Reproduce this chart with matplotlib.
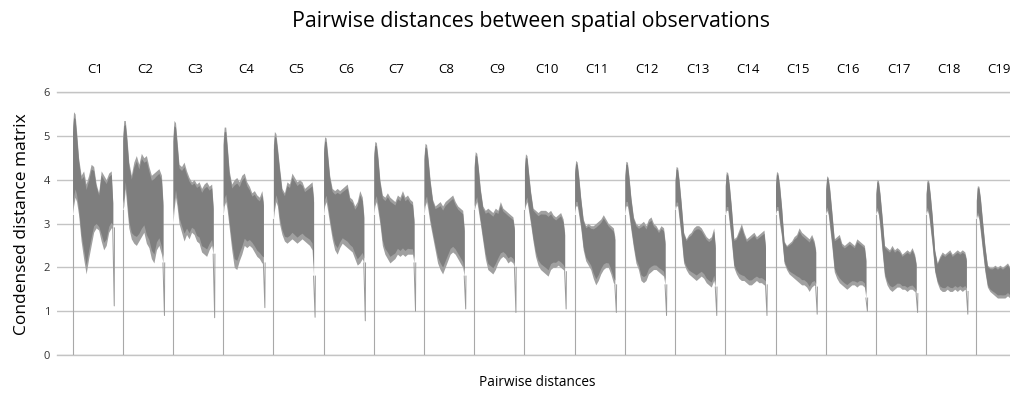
import numpy as np
import matplotlib.pyplot as plt

plt.rcParams['font.family'] = ['Open Sans', 'DejaVu Sans']

# Cluster blocks along the condensed distance vector
clusters = ['C%d' % i for i in range(1, 20)]

# Sample positions inside one block (fraction of the block width)
pos = [0.00, 0.02, 0.05, 0.08, 0.12, 0.17, 0.22, 0.27, 0.32, 0.37,
       0.42, 0.47, 0.52, 0.57, 0.62, 0.67, 0.72, 0.77, 0.80]

# Upper envelope of the pairwise distances, one row per cluster
band_top = [
    [5.2, 5.55, 5.5, 5.1, 4.5, 4.1, 4.2, 3.9, 4.1, 4.35, 4.3, 3.9, 3.7, 4.2, 4.1, 4.0, 4.15, 4.2, 3.5],
    [5.0, 5.35, 5.35, 5.0, 4.4, 4.1, 4.4, 4.55, 4.35, 4.6, 4.5, 4.55, 4.3, 4.1, 4.15, 4.2, 4.25, 4.1, 3.5],
    [5.0, 5.35, 5.3, 4.9, 4.35, 4.3, 4.4, 4.2, 4.05, 3.95, 4.0, 3.9, 3.95, 3.8, 3.9, 3.95, 3.85, 3.9, 3.4],
    [4.9, 5.2, 5.2, 4.8, 4.2, 3.9, 4.0, 4.05, 3.95, 4.1, 4.15, 3.95, 3.85, 3.7, 3.75, 3.65, 3.6, 3.75, 3.5],
    [4.8, 5.1, 5.05, 4.75, 4.3, 3.8, 3.7, 3.95, 3.9, 4.15, 4.05, 3.95, 4.0, 3.95, 3.8, 3.85, 3.9, 3.95, 3.6],
    [4.7, 4.98, 4.95, 4.6, 4.1, 3.8, 3.75, 3.8, 3.75, 3.8, 3.85, 3.9, 3.6, 3.55, 3.4, 3.5, 3.75, 3.6, 3.2],
    [4.6, 4.87, 4.85, 4.55, 4.0, 3.65, 3.6, 3.7, 3.6, 3.55, 3.5, 3.65, 3.6, 3.75, 3.6, 3.65, 3.55, 3.5, 3.1],
    [4.55, 4.83, 4.8, 4.5, 4.0, 3.55, 3.4, 3.45, 3.5, 3.4, 3.5, 3.55, 3.6, 3.65, 3.5, 3.4, 3.35, 3.3, 2.9],
    [4.35, 4.64, 4.6, 4.3, 3.8, 3.4, 3.3, 3.35, 3.3, 3.25, 3.35, 3.3, 3.5, 3.35, 3.3, 3.25, 3.2, 3.15, 2.9],
    [4.3, 4.59, 4.55, 4.2, 3.75, 3.35, 3.3, 3.25, 3.3, 3.3, 3.3, 3.25, 3.3, 3.2, 3.15, 3.2, 3.25, 3.1, 2.8],
    [4.2, 4.44, 4.4, 4.1, 3.6, 3.1, 2.95, 3.0, 2.95, 2.95, 3.0, 3.05, 3.1, 3.2, 3.1, 3.0, 2.95, 2.9, 2.7],
    [4.1, 4.42, 4.4, 4.1, 3.6, 3.15, 3.0, 2.95, 3.0, 3.05, 2.95, 3.1, 3.15, 3.0, 2.95, 2.85, 2.95, 2.9, 2.6],
    [4.0, 4.3, 4.28, 4.0, 3.5, 2.8, 2.65, 2.75, 2.8, 2.9, 2.95, 2.95, 2.9, 2.8, 2.7, 2.65, 2.7, 2.9, 2.5],
    [3.9, 4.19, 4.15, 3.9, 3.4, 2.65, 2.7, 2.85, 3.0, 2.8, 2.65, 2.7, 2.75, 2.8, 2.7, 2.75, 2.8, 2.85, 2.5],
    [3.9, 4.19, 4.15, 3.9, 3.4, 2.6, 2.5, 2.55, 2.6, 2.7, 2.75, 2.9, 2.8, 2.75, 2.7, 2.65, 2.75, 2.6, 2.4],
    [3.8, 4.09, 4.05, 3.8, 3.3, 2.65, 2.7, 2.75, 2.55, 2.5, 2.55, 2.6, 2.55, 2.5, 2.65, 2.6, 2.55, 2.5, 2.2],
    [3.7, 4.0, 3.98, 3.7, 3.2, 2.5, 2.45, 2.4, 2.5, 2.4, 2.45, 2.4, 2.3, 2.35, 2.4, 2.35, 2.45, 2.3, 2.1],
    [3.7, 4.0, 3.98, 3.7, 3.2, 2.4, 2.1, 2.25, 2.35, 2.3, 2.35, 2.4, 2.3, 2.35, 2.4, 2.35, 2.4, 2.35, 2.2],
    [3.55, 3.86, 3.85, 3.6, 3.1, 2.5, 2.05, 2.0, 2.0, 2.05, 2.0, 2.05, 2.0, 2.05, 2.1, 2.0, 2.05, 2.0, 1.9],
]

# Lower envelope
band_bottom = [
    [3.2, 3.4, 3.6, 3.5, 3.2, 2.6, 2.2, 1.85, 2.2, 2.5, 2.8, 2.9, 2.85, 2.6, 2.4, 2.5, 2.8, 2.9, 2.9],
    [3.3, 3.4, 3.8, 3.4, 2.9, 2.65, 2.55, 2.5, 2.6, 2.7, 2.8, 2.55, 2.45, 2.2, 2.1, 2.4, 2.5, 2.3, 2.1],
    [3.0, 3.3, 3.6, 3.4, 3.0, 2.8, 2.6, 2.75, 2.65, 2.8, 2.75, 2.6, 2.55, 2.35, 2.3, 2.25, 2.4, 2.5, 2.3],
    [3.2, 3.4, 3.5, 3.3, 2.9, 2.4, 2.0, 1.95, 2.15, 2.3, 2.5, 2.45, 2.5, 2.45, 2.35, 2.25, 2.2, 2.1, 2.1],
    [3.1, 3.3, 3.5, 3.4, 3.0, 2.75, 2.6, 2.55, 2.6, 2.65, 2.6, 2.55, 2.6, 2.65, 2.6, 2.55, 2.5, 2.4, 1.8],
    [3.2, 3.4, 3.5, 3.3, 3.0, 2.65, 2.4, 2.3, 2.45, 2.55, 2.5, 2.45, 2.4, 2.35, 2.2, 2.05, 2.1, 2.2, 2.1],
    [3.2, 3.4, 3.5, 3.3, 3.0, 2.5, 2.3, 2.2, 2.1, 2.15, 2.2, 2.3, 2.25, 2.3, 2.25, 2.3, 2.3, 2.3, 2.1],
    [3.2, 3.4, 3.5, 3.3, 3.0, 2.7, 2.4, 2.1, 1.95, 1.85, 2.0, 2.15, 2.3, 2.35, 2.3, 2.2, 2.1, 2.0, 1.8],
    [3.3, 3.4, 3.5, 3.3, 3.0, 2.6, 2.2, 1.95, 1.9, 1.85, 1.95, 2.1, 2.2, 2.25, 2.2, 2.1, 2.15, 2.1, 2.0],
    [3.3, 3.4, 3.5, 3.3, 3.0, 2.6, 2.25, 2.05, 1.95, 1.9, 1.85, 1.8, 1.95, 2.0, 2.0, 2.05, 2.0, 1.95, 1.9],
    [3.2, 3.4, 3.4, 3.2, 2.9, 2.4, 2.15, 2.05, 1.95, 1.75, 1.6, 1.7, 1.85, 1.95, 2.0, 2.0, 1.85, 1.65, 1.6],
    [3.2, 3.4, 3.4, 3.2, 2.85, 2.45, 2.1, 1.95, 1.7, 1.65, 1.7, 1.85, 1.9, 1.95, 1.95, 1.9, 1.85, 1.8, 1.6],
    [3.3, 3.4, 3.4, 3.1, 2.7, 2.1, 1.95, 1.85, 1.8, 1.75, 1.7, 1.75, 1.8, 1.75, 1.65, 1.6, 1.55, 1.7, 1.55],
    [3.2, 3.3, 3.3, 3.0, 2.6, 2.0, 1.85, 1.75, 1.7, 1.7, 1.65, 1.6, 1.6, 1.65, 1.7, 1.65, 1.65, 1.6, 1.6],
    [3.2, 3.3, 3.3, 3.0, 2.7, 2.1, 1.95, 1.85, 1.8, 1.75, 1.7, 1.65, 1.6, 1.6, 1.55, 1.45, 1.55, 1.6, 1.55],
    [3.2, 3.3, 3.2, 2.9, 2.5, 1.9, 1.75, 1.65, 1.6, 1.55, 1.5, 1.55, 1.6, 1.6, 1.55, 1.6, 1.6, 1.55, 1.3],
    [3.2, 3.3, 3.2, 2.9, 2.4, 1.8, 1.6, 1.5, 1.45, 1.5, 1.55, 1.55, 1.5, 1.5, 1.45, 1.5, 1.5, 1.45, 1.4],
    [3.2, 3.3, 3.2, 2.9, 2.5, 1.9, 1.65, 1.5, 1.45, 1.45, 1.5, 1.45, 1.45, 1.5, 1.45, 1.5, 1.45, 1.5, 1.45],
    [3.1, 3.2, 3.1, 2.8, 2.4, 1.9, 1.55, 1.45, 1.4, 1.35, 1.3, 1.3, 1.3, 1.3, 1.35, 1.3, 1.35, 1.35, 1.3],
]

# Minimum reached by the thin dip at the end of each block
end_dip = [1.12, 0.9, 0.85, 1.08, 0.86, 0.78, 1.0, 1.05, 0.97, 1.05,
           0.97, 0.9, 0.9, 0.9, 0.93, 1.0, 0.97, 0.93, 0.9]

fig = plt.figure(figsize=(10.1, 3.94), dpi=100)
ax = fig.add_axes([57 / 1010, 39 / 394, 953 / 1010, 263 / 394])

for k in range(len(clusters)):
    x = k + np.array(pos)
    top = np.array(band_top[k])
    bot = np.array(band_bottom[k])
    # light outer band, darker core to mimic the overlapping lines
    ax.fill_between(x, bot, top, color='#a0a0a0', lw=0, zorder=3)
    ax.fill_between(x, bot + 0.1 * (top - bot), top - 0.06 * (top - bot),
                    color='#7e7e7e', lw=0, zorder=4)
    # thin rise from zero at block start, thin dip at block end
    ax.plot([k, k], [0, bot[0]], color='#a8a8a8', lw=0.8, zorder=3)
    ax.plot([x[-1], k + 0.83, k + 0.835], [bot[-1], end_dip[k], bot[-1]],
            color='#9a9a9a', lw=0.7, zorder=3)
    ax.text(k + 0.45, 6.52, clusters[k], ha='center', va='center',
            fontsize=9.5, color='#000000', clip_on=False)

ax.set_xlim(-0.31, 18.67)
ax.set_ylim(0, 6)
ax.set_yticks(range(0, 7))
ax.set_xticks([])
ax.tick_params(axis='y', length=0, pad=5, labelsize=8, labelcolor='#333333')
ax.grid(axis='y', color='#c4c4c4', lw=1)
ax.set_axisbelow(True)
for side in ['left', 'right']:
    ax.spines[side].set_visible(False)
for side in ['top', 'bottom']:
    ax.spines[side].set_color('#c4c4c4')
    ax.spines[side].set_linewidth(1)

fig.text(531 / 1010, 1 - 22 / 394, 'Pairwise distances between spatial observations',
         ha='center', va='center', fontsize=15.3)
fig.text(537 / 1010, 1 - 383 / 394, 'Pairwise distances',
         ha='center', va='center', fontsize=9.8)
fig.text(22 / 1010, 1 - 224 / 394, 'Condensed distance matrix',
         ha='center', va='center', rotation=90, fontsize=12.5)

fig.savefig('out.png', dpi=100)
